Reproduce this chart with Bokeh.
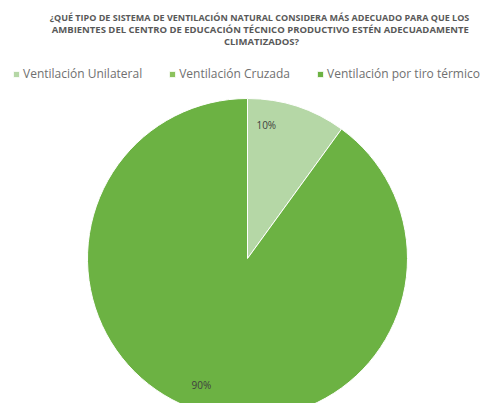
import math
from bokeh.plotting import figure
from bokeh.models import ColumnDataSource, Range1d, Legend, LegendItem
from bokeh.core.properties import value
from bokeh.embed import file_html
from bokeh.resources import INLINE

# ---- data ----
categories = ["Ventilación Unilateral", "Ventilación Cruzada", "Ventilación por tiro térmico"]
percents = [10, 0, 90]
colors = ["#b5d7a6", "#8cc25d", "#6cb243"]
title_lines = [
    "¿QUÉ TIPO DE SISTEMA DE VENTILACIÓN NATURAL CONSIDERA MÁS ADECUADO PARA QUE LOS",
    "AMBIENTES DEL  CENTRO DE EDUCACIÓN TÉCNICO PRODUCTIVO ESTÉN ADECUADAMENTE",
    "CLIMATIZADOS?",
]
label_angle_shift_deg = [10, 0, -2]

W, H = 480, 403
cx, cy, R = 247, 145, 160

p = figure(width=W, height=H, output_backend="svg", toolbar_location=None,
           x_range=Range1d(0, W), y_range=Range1d(0, H), min_border=0)
p.axis.visible = False
p.grid.visible = False
p.outline_line_color = None
p.background_fill_color = "white"
p.border_fill_color = "white"

total = sum(percents)
starts, ends = [], []
a = math.pi / 2
for v in percents:
    s = a
    e = a - v / total * 2 * math.pi
    starts.append(s)
    ends.append(e)
    a = e
radii = [R if v > 0 else 0 for v in percents]

src = ColumnDataSource(dict(cat=categories, val=percents, color=colors,
                            start=starts, end=ends, rad=radii))
r = p.wedge(x=cx, y=cy, radius="rad", start_angle="start", end_angle="end",
            direction="clock", fill_color="color", line_color="white",
            line_width=1, source=src)

legend = Legend(items=[LegendItem(label=c, renderers=[r], index=i) for i, c in enumerate(categories)],
                orientation="horizontal", location=(12, 321),
                label_text_font="Open Sans", label_text_font_size="12px",
                label_text_color="#707070", glyph_width=8, glyph_height=8,
                label_height=12, label_text_baseline="middle",
                spacing=26, padding=0, margin=0, label_standoff=3,
                border_line_color=None, background_fill_alpha=0)
p.add_layout(legend)

# labels
lx, ly, lt = [], [], []
for v, s, e, sh in zip(percents, starts, ends, label_angle_shift_deg):
    if v == 0:
        continue
    mid = (s + e) / 2 + math.radians(sh)
    lx.append(cx + 135 * math.cos(mid))
    ly.append(cy + 135 * math.sin(mid))
    lt.append(f"{v}%")
p.text(x=lx, y=ly, text=lt, text_font=value("Open Sans"), text_font_size="10px",
       text_color="#404040", text_align="center", text_baseline="middle")

# title
p.text(x=[259], y=[386], text=title_lines[:1], text_font=value("Open Sans"),
       text_font_size="9px", text_font_style="bold", text_color="#595959",
       text_align="center", text_baseline="middle")
p.text(x=[261] * 2, y=[374, 362], text=title_lines[1:], text_font=value("Open Sans"),
       text_font_size="9.5px", text_font_style="bold", text_color="#595959",
       text_align="center", text_baseline="middle")

open("out.html", "w").write(file_html(p, INLINE))
